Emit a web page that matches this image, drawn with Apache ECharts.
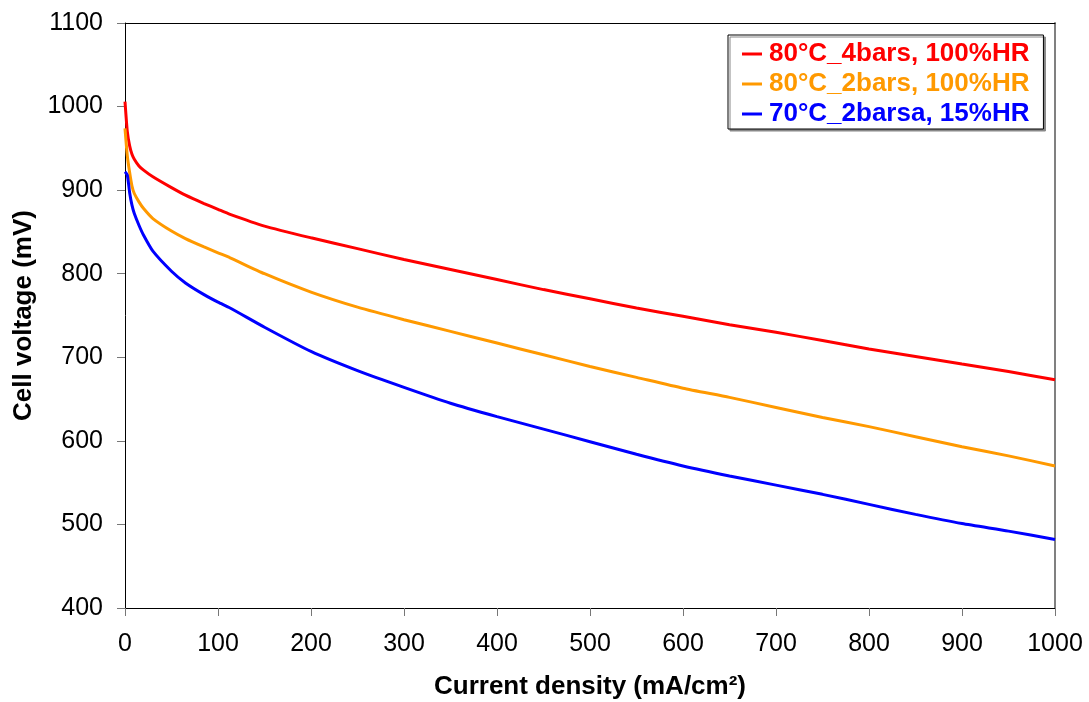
<!DOCTYPE html>
<html>
<head>
<meta charset="utf-8">
<script src="https://cdn.jsdelivr.net/npm/echarts@6/dist/echarts.min.js"></script>
<style>
html,body{margin:0;padding:0;background:#fff;}
#chart{width:1089px;height:702px;}
</style>
</head>
<body>
<div id="chart"></div>
<script>
// Current density (mA/cm²)
const currentDensity = [0, 2.5, 5, 7.5, 10, 15, 20, 30, 50, 65, 85, 100, 113, 150, 200, 250, 300, 350, 400, 450, 500, 550, 600, 650, 700, 750, 800, 850, 900, 950, 1000];
// Cell voltage (mV)
const v80C4bars = [1006, 970, 953, 943, 937, 929, 924, 916, 903, 894, 884, 877, 871, 857, 843, 830, 817, 805, 793, 781, 770, 759, 749, 739, 730, 720, 710, 701, 692, 683, 673];
const v80C2bars = [974, 941, 921, 905, 896, 886, 878, 866, 851, 842, 832, 825, 819, 800, 778, 760, 745, 731, 717, 703, 689, 676, 663, 652, 640, 628, 617, 605, 593, 582, 570];
const v70C2barsa = [922, 918, 897, 882, 872, 858, 846, 827, 803, 789, 775, 766, 759, 736, 707, 684, 664, 645, 629, 614, 599, 584, 570, 558, 547, 536, 524, 512, 501, 492, 482];
const seriesNames = ['80°C_4bars, 100%HR', '80°C_2bars, 100%HR', '70°C_2barsa, 15%HR'];
const seriesColors = ['#FF0000', '#FF9900', '#0000FF'];
const xTicks = [0, 100, 200, 300, 400, 500, 600, 700, 800, 900, 1000];
const yTicks = [400, 500, 600, 700, 800, 900, 1000, 1100];

const allValues = [v80C4bars, v80C2bars, v70C2barsa];
const font = 'Liberation Sans, Arial, sans-serif';

const chart = echarts.init(document.getElementById('chart'), null, {renderer: 'canvas'});
chart.setOption({
  backgroundColor: '#fff',
  animation: false,
  grid: {left: 125, right: 34, top: 23, bottom: 94, containLabel: false, outerBoundsMode: 'none'},
  legend: {
    orient: 'vertical',
    left: 728, top: 35,
    padding: [6, 14, 2, 14],
    itemGap: 4,
    itemWidth: 20, itemHeight: 3,
    icon: 'rect',
    backgroundColor: '#fff',
    borderColor: '#000', borderWidth: 1,
    shadowColor: '#888', shadowOffsetX: 2, shadowOffsetY: 2, shadowBlur: 0,
    data: seriesNames.map((n, i) => ({name: n, textStyle: {color: seriesColors[i]}})),
    textStyle: {fontFamily: font, fontSize: 26, fontWeight: 'bold', lineHeight: 26, padding: [0, 0, 0, 2]}
  },
  xAxis: [{
    type: 'value', min: xTicks[0], max: xTicks[xTicks.length - 1], interval: 100,
    name: 'Current density (mA/cm²)', nameLocation: 'middle', nameGap: 66,
    nameTextStyle: {fontFamily: font, fontSize: 26, fontWeight: 'bold', color: '#000'},
    axisLine: {onZero: false, lineStyle: {color: '#000', width: 1}},
    axisTick: {show: true, inside: false, length: 8, lineStyle: {color: '#777'}},
    axisLabel: {fontFamily: font, fontSize: 25, color: '#000', margin: 24, formatter: v => String(v)},
    splitLine: {show: false}
  }, {
    type: 'value', position: 'top', min: 0, max: 1000,
    axisLine: {show: true, onZero: false, lineStyle: {color: '#000', width: 1}},
    axisTick: {show: false}, axisLabel: {show: false}, splitLine: {show: false}
  }],
  yAxis: [{
    type: 'value', min: yTicks[0], max: yTicks[yTicks.length - 1], interval: 100,
    name: 'Cell voltage (mV)', nameLocation: 'middle', nameGap: 86,
    nameTextStyle: {fontFamily: font, fontSize: 26, fontWeight: 'bold', color: '#000'},
    axisLine: {show: true, onZero: false, lineStyle: {color: '#000', width: 1}},
    axisTick: {show: true, inside: false, length: 8, lineStyle: {color: '#777'}},
    axisLabel: {fontFamily: font, fontSize: 25, color: '#000', margin: 22, formatter: v => String(v)},
    splitLine: {show: false}
  }, {
    type: 'value', position: 'right', min: 400, max: 1100,
    axisLine: {show: true, onZero: false, lineStyle: {color: '#808080', width: 2}},
    axisTick: {show: false}, axisLabel: {show: false}, splitLine: {show: false}
  }],
  series: allValues.map((vals, i) => ({
    name: seriesNames[i],
    type: 'line',
    xAxisIndex: 0, yAxisIndex: 0,
    showSymbol: false,
    smooth: 0.2,
    lineStyle: {color: seriesColors[i], width: 3},
    itemStyle: {color: seriesColors[i]},
    data: currentDensity.map((x, j) => [x, vals[j]])
  }))
});
</script>
</body>
</html>
